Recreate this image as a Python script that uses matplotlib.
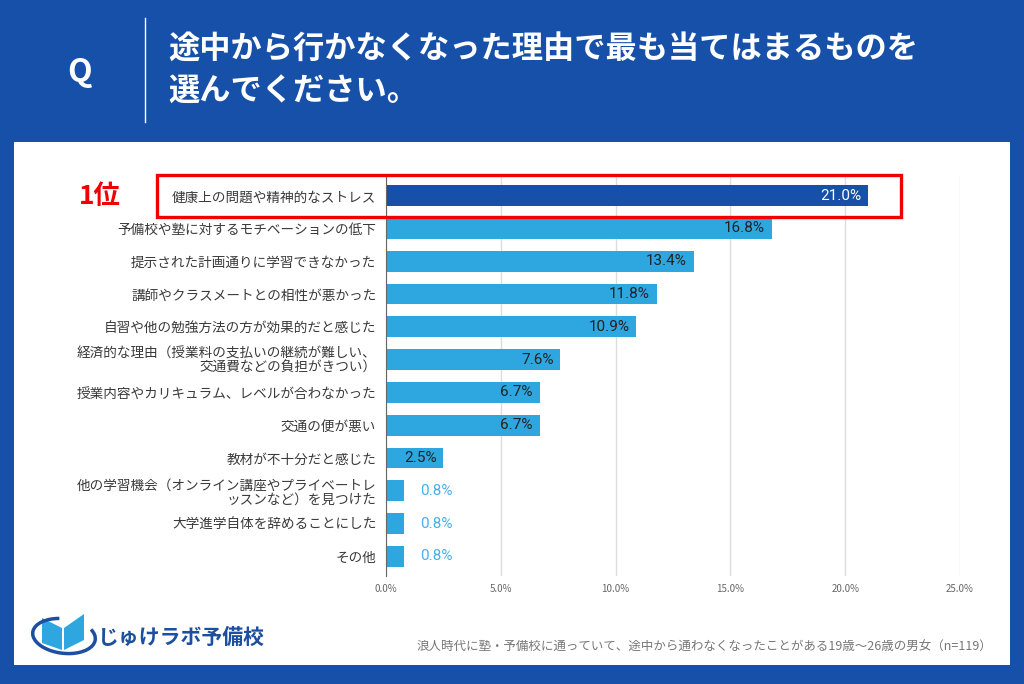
import matplotlib as mpl
mpl.use('agg')
import matplotlib.pyplot as plt
from matplotlib.patches import Rectangle, Polygon, Arc

plt.rcParams['font.family'] = ['Noto Sans CJK JP', 'DejaVu Sans']

# data
labels = [
    "健康上の問題や精神的なストレス",
    "予備校や塾に対するモチベーションの低下",
    "提示された計画通りに学習できなかった",
    "講師やクラスメートとの相性が悪かった",
    "自習や他の勉強方法の方が効果的だと感じた",
    "経済的な理由（授業料の支払いの継続が難しい、\n交通費などの負担がきつい）",
    "授業内容やカリキュラム、レベルが合わなかった",
    "交通の便が悪い",
    "教材が不十分だと感じた",
    "他の学習機会（オンライン講座やプライベートレ\nッスンなど）を見つけた",
    "大学進学自体を辞めることにした",
    "その他",
]
values = [21.0, 16.8, 13.4, 11.8, 10.9, 7.6, 6.7, 6.7, 2.5, 0.8, 0.8, 0.8]
xticks = [0, 5, 10, 15, 20, 25]

title = "途中から行かなくなった理由で最も当てはまるものを\n選んでください。"
note = "浪人時代に塾・予備校に通っていて、途中から通わなくなったことがある19歳～26歳の男女（n=119）"

BLUE = '#1650A8'
LIGHT = '#2EA6E0'

fig = plt.figure(figsize=(10.24, 6.84), dpi=100)
fig.patch.set_facecolor(BLUE)

# white panel
fig.patches.append(Rectangle((14/1024, 1 - 665/684), 996/1024, 523/684,
                             transform=fig.transFigure, facecolor='white',
                             edgecolor='none', zorder=-5))

# header
fig.text(80/1024, 1 - 72/684, "Q", color='white', fontsize=23, fontweight='bold',
         ha='center', va='center')
fig.add_artist(plt.Line2D([145/1024, 145/1024], [1 - 18/684, 1 - 122/684],
                          transform=fig.transFigure, color='white', lw=1))
fig.text(168/1024, 1 - 71/684, title, color='white', fontsize=22.5, fontweight='bold',
         ha='left', va='center', linespacing=1.4)

ax = fig.add_axes([386/1024, 1 - 576/684, 574/1024, 400/684])
ax.set_facecolor('white')
ypos = list(range(len(values)))
colors = [BLUE] + [LIGHT] * (len(values) - 1)
ax.barh(ypos, values, height=0.63, color=colors, zorder=3)
ax.set_ylim(len(values) - 0.4, -0.6)
ax.set_xlim(0, 25)
ax.set_xticks(xticks)
ax.set_xticklabels([f"{t:.1f}%" for t in xticks], fontsize=7, color='#666666')
ax.set_yticks(ypos)
ax.set_yticklabels(labels, fontsize=9.8, color='#3a3a3a', linespacing=1.0)
ax.tick_params(axis='both', length=0)
ax.tick_params(axis='y', pad=7)
ax.tick_params(axis='x', pad=6)
ax.grid(axis='x', color='#dddddd', lw=1, zorder=0)
for s in ['top', 'right', 'bottom']:
    ax.spines[s].set_visible(False)
ax.spines['left'].set_color('#666666')
ax.spines['left'].set_zorder(4)

for i, v in enumerate(values):
    if v >= 2:
        c = 'white' if i == 0 else '#222222'
        ax.annotate(f"{v:.1f}%", (v, i), xytext=(-5, 0), textcoords='offset points',
                    ha='right', va='center', fontsize=11, color=c, zorder=5,
                    family='Roboto')
    else:
        ax.annotate(f"{v:.1f}%", (v, i), xytext=(11, 0), textcoords='offset points',
                    ha='left', va='center', fontsize=11, color='#45B0EA', zorder=5,
                    family='Roboto')

# highlight of the top answer
fig.patches.append(Rectangle((157/1024, 1 - 217/684), 744/1024, 42/684,
                             transform=fig.transFigure, facecolor='none',
                             edgecolor='#F00000', lw=2.4, zorder=10))
fig.text(100/1024, 1 - 197/684, "1位", color='#F00000', fontsize=19, fontweight='bold',
         ha='center', va='center')

# logo
fig.add_artist(Polygon([[42/1024, 1 - 618/684], [62/1024, 1 - 628/684],
                        [62/1024, 1 - 650/684], [42/1024, 1 - 643/684]],
                       closed=True, transform=fig.transFigure, facecolor=LIGHT,
                       edgecolor='none'))
fig.add_artist(Polygon([[64/1024, 1 - 628/684], [84/1024, 1 - 614/684],
                        [84/1024, 1 - 640/684], [64/1024, 1 - 650/684]],
                       closed=True, transform=fig.transFigure, facecolor=LIGHT,
                       edgecolor='none'))
fig.add_artist(Arc((64/1024, 1 - 636/684), 64/1024, 34/684, angle=-20,
                   theta1=120, theta2=400, transform=fig.transFigure,
                   color='#1D4FA0', lw=2.5))
fig.text(98/1024, 1 - 637/684, "じゅけラボ予備校", color='#1D4FA0', fontsize=15,
         fontweight='bold', ha='left', va='center')

fig.text(992/1024, 1 - 647/684, note, color='#777777', fontsize=9,
         ha='right', va='center')

plt.savefig('out.png', dpi=100, facecolor=fig.get_facecolor())
